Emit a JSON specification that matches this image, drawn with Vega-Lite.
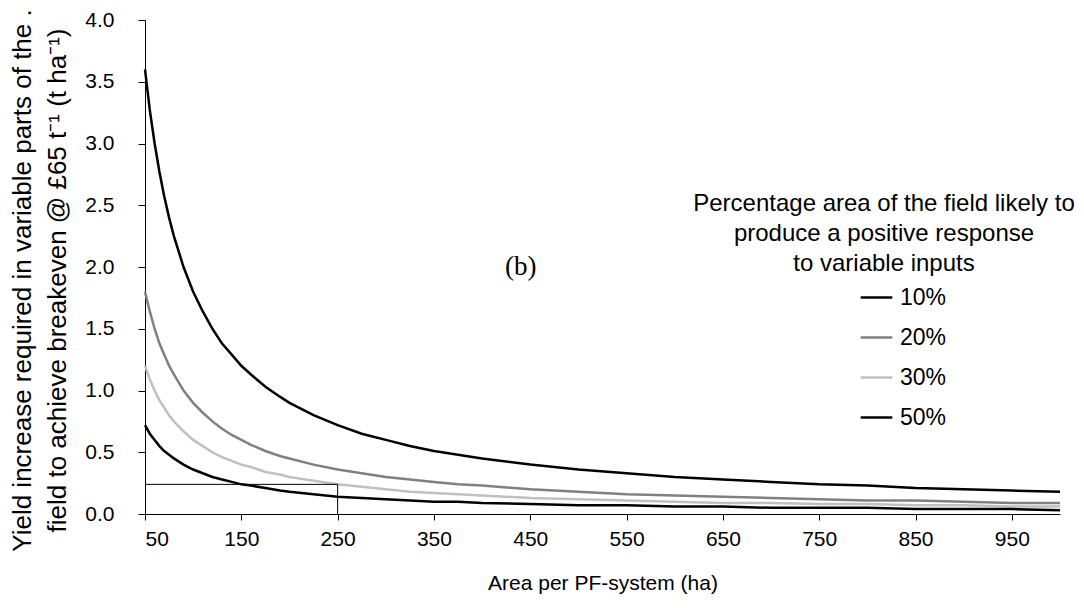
{
  "$schema": "https://vega.github.io/schema/vega-lite/v6.json",
  "width": 915,
  "height": 494,
  "autosize": {"type": "none"},
  "padding": {"left": 145, "top": 20, "right": 24, "bottom": 94},
  "background": "white",
  "config": {
    "view": {"stroke": null},
    "font": "Liberation Sans",
    "axis": {"grid": false, "domainColor": "#000", "tickColor": "#000", "labelColor": "#000", "titleColor": "#000", "labelFont": "Liberation Sans", "titleFont": "Liberation Sans", "titleFontWeight": "normal"},
    "legend": {"labelFont": "Liberation Sans", "titleFont": "Liberation Sans"}
  },
  "datasets": {
    "curves": [
      {"area": 50, "10%": 3.6, "20%": 1.8, "30%": 1.2, "50%": 0.72},
      {"area": 55, "10%": 3.27, "20%": 1.64, "30%": 1.09, "50%": 0.65},
      {"area": 60, "10%": 3.0, "20%": 1.5, "30%": 1.0, "50%": 0.6},
      {"area": 65, "10%": 2.77, "20%": 1.38, "30%": 0.92, "50%": 0.55},
      {"area": 70, "10%": 2.57, "20%": 1.29, "30%": 0.86, "50%": 0.51},
      {"area": 75, "10%": 2.4, "20%": 1.2, "30%": 0.8, "50%": 0.48},
      {"area": 80, "10%": 2.25, "20%": 1.13, "30%": 0.75, "50%": 0.45},
      {"area": 90, "10%": 2.0, "20%": 1.0, "30%": 0.67, "50%": 0.4},
      {"area": 100, "10%": 1.8, "20%": 0.9, "30%": 0.6, "50%": 0.36},
      {"area": 110, "10%": 1.64, "20%": 0.82, "30%": 0.55, "50%": 0.33},
      {"area": 120, "10%": 1.5, "20%": 0.75, "30%": 0.5, "50%": 0.3},
      {"area": 130, "10%": 1.38, "20%": 0.69, "30%": 0.46, "50%": 0.28},
      {"area": 140, "10%": 1.29, "20%": 0.64, "30%": 0.43, "50%": 0.26},
      {"area": 150, "10%": 1.2, "20%": 0.6, "30%": 0.4, "50%": 0.24},
      {"area": 160, "10%": 1.13, "20%": 0.56, "30%": 0.38, "50%": 0.23},
      {"area": 175, "10%": 1.03, "20%": 0.51, "30%": 0.34, "50%": 0.21},
      {"area": 190, "10%": 0.95, "20%": 0.47, "30%": 0.32, "50%": 0.19},
      {"area": 200, "10%": 0.9, "20%": 0.45, "30%": 0.3, "50%": 0.18},
      {"area": 225, "10%": 0.8, "20%": 0.4, "30%": 0.27, "50%": 0.16},
      {"area": 250, "10%": 0.72, "20%": 0.36, "30%": 0.24, "50%": 0.14},
      {"area": 275, "10%": 0.65, "20%": 0.33, "30%": 0.22, "50%": 0.13},
      {"area": 300, "10%": 0.6, "20%": 0.3, "30%": 0.2, "50%": 0.12},
      {"area": 325, "10%": 0.55, "20%": 0.28, "30%": 0.18, "50%": 0.11},
      {"area": 350, "10%": 0.51, "20%": 0.26, "30%": 0.17, "50%": 0.1},
      {"area": 375, "10%": 0.48, "20%": 0.24, "30%": 0.16, "50%": 0.1},
      {"area": 400, "10%": 0.45, "20%": 0.23, "30%": 0.15, "50%": 0.09},
      {"area": 450, "10%": 0.4, "20%": 0.2, "30%": 0.13, "50%": 0.08},
      {"area": 500, "10%": 0.36, "20%": 0.18, "30%": 0.12, "50%": 0.07},
      {"area": 550, "10%": 0.33, "20%": 0.16, "30%": 0.11, "50%": 0.07},
      {"area": 600, "10%": 0.3, "20%": 0.15, "30%": 0.1, "50%": 0.06},
      {"area": 650, "10%": 0.28, "20%": 0.14, "30%": 0.09, "50%": 0.06},
      {"area": 700, "10%": 0.26, "20%": 0.13, "30%": 0.09, "50%": 0.05},
      {"area": 750, "10%": 0.24, "20%": 0.12, "30%": 0.08, "50%": 0.05},
      {"area": 800, "10%": 0.23, "20%": 0.11, "30%": 0.08, "50%": 0.05},
      {"area": 850, "10%": 0.21, "20%": 0.11, "30%": 0.07, "50%": 0.04},
      {"area": 900, "10%": 0.2, "20%": 0.1, "30%": 0.07, "50%": 0.04},
      {"area": 950, "10%": 0.19, "20%": 0.09, "30%": 0.06, "50%": 0.04},
      {"area": 1000, "10%": 0.18, "20%": 0.09, "30%": 0.06, "50%": 0.03}
    ],
    "refs": [
      {"x": 50, "x2": 250, "y": 0.24, "y2": 0.24},
      {"x": 250, "x2": 250, "y": 0, "y2": 0.24}
    ],
    "notes": [
      {"x": 440, "y": 2.0, "label": "(b)"}
    ]
  },
  "layer": [
    {
      "data": {"name": "curves"},
      "transform": [{"fold": ["10%", "20%", "30%", "50%"], "as": ["series", "value"]}],
      "mark": {"type": "line", "strokeWidth": 2.5, "interpolate": "linear"},
      "encoding": {
        "x": {
          "field": "area", "type": "quantitative",
          "scale": {"domain": [50, 1000], "nice": false, "zero": false},
          "axis": {
            "title": "Area per PF-system (ha)",
            "values": [50, 150, 250, 350, 450, 550, 650, 750, 850, 950],
            "labelFontSize": 21, "titleFontSize": 21,
            "tickSize": 6, "labelPadding": 8,
            "titleY": 69, "titleBaseline": "middle"
          }
        },
        "y": {
          "field": "value", "type": "quantitative",
          "scale": {"domain": [0, 4], "nice": false},
          "axis": {
            "title": ["Yield increase required in variable parts of the  .", "field to achieve breakeven @ £65 t⁻¹ (t ha⁻¹)"],
            "values": [0, 0.5, 1, 1.5, 2, 2.5, 3, 3.5, 4],
            "format": ".1f",
            "labelFontSize": 21, "titleFontSize": 26,
            "tickSize": 7, "labelPadding": 24,
            "titleLineHeight": 35, "titleAlign": "center", "titleLimit": 2000,
            "titleX": -136, "titleY": 260, "titleBaseline": "top", "titleAngle": -90
          }
        },
        "color": {
          "field": "series", "type": "nominal",
          "scale": {"domain": ["10%", "20%", "30%", "50%"], "range": ["#000000", "#808080", "#c0c0c0", "#000000"]},
          "legend": {
            "orient": "none", "legendX": 548, "legendY": 172,
            "title": ["Percentage area of the field likely to", "produce a positive response", "to variable inputs"],
            "titleFontSize": 24, "titleFontWeight": "normal", "titleLineHeight": 30, "titleLimit": 2000,
            "titleAlign": "center", "titleAnchor": "middle", "titlePadding": 4,
            "labelFontSize": 23, "labelColor": "#000", "titleColor": "#000",
            "symbolType": "stroke", "symbolSize": 1000, "symbolStrokeWidth": 2.5,
            "symbolOffset": 37, "labelOffset": 6, "rowPadding": 10, "padding": 0
          }
        }
      }
    },
    {
      "data": {"name": "refs"},
      "mark": {"type": "rule", "color": "#000", "strokeWidth": 1},
      "encoding": {
        "x": {"field": "x", "type": "quantitative"},
        "x2": {"field": "x2"},
        "y": {"field": "y", "type": "quantitative"},
        "y2": {"field": "y2"}
      }
    },
    {
      "data": {"name": "notes"},
      "mark": {"type": "text", "font": "Liberation Serif", "fontSize": 27, "color": "#000", "align": "center", "baseline": "middle"},
      "encoding": {
        "x": {"field": "x", "type": "quantitative"},
        "y": {"field": "y", "type": "quantitative"},
        "text": {"field": "label"}
      }
    }
  ]
}
